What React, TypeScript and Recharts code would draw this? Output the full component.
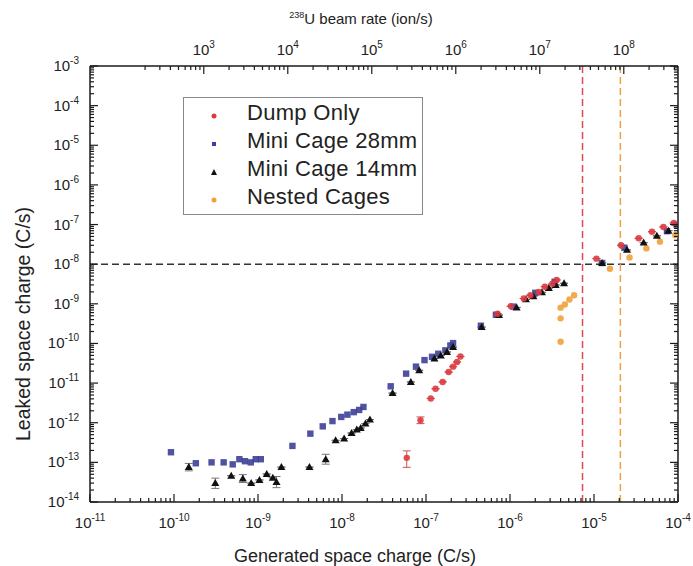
import React from 'react';
import { ScatterChart, Scatter, XAxis, YAxis, ReferenceLine, Legend, ErrorBar, Label } from 'recharts';

const FONT = '"Liberation Sans", Arial, Helvetica, sans-serif';

// ---------- axis definitions ----------
const X_DECADES = [-11, -10, -9, -8, -7, -6, -5, -4];
const Y_DECADES = [-14, -13, -12, -11, -10, -9, -8, -7, -6, -5, -4, -3];
const TOP_MAJOR_DECADES = [3, 4, 5, 6, 7, 8];
const TOP_MINOR_DECADES = [2, 3, 4, 5, 6, 7, 8];
const MINOR_MULTIPLIERS = [2, 3, 4, 5, 6, 7, 8, 9];
const ION_PER_CS = 4.42e12; // 238U ions/s per C/s generated

const X_DOMAIN = [1e-11, 1e-4];
const Y_DOMAIN = [1e-14, 1e-3];
const TOP_DOMAIN = [X_DOMAIN[0] * ION_PER_CS, X_DOMAIN[1] * ION_PER_CS];

const LEAK_LIMIT = 1e-8;
const RED_LIMIT = 7.3e-6;
const ORANGE_LIMIT = 2.06e-5;

// ---------- series data ----------
const dumpX = [5.9e-8, 8.6e-8, 1.14e-7, 1.3e-7, 1.58e-7, 1.86e-7, 2.1e-7, 2.34e-7, 2.57e-7,
  7.1e-7, 1.02e-6, 1.46e-6, 1.75e-6, 2.2e-6, 2.6e-6, 3.2e-6, 3.6e-6,
  1.07e-5, 2.1e-5, 3.4e-5, 4.9e-5, 6.7e-5, 8.9e-5];
const dumpY = [1.3e-13, 1.15e-12, 4.1e-12, 7.2e-12, 1.07e-11, 1.9e-11, 2.6e-11, 3.4e-11, 4.7e-11,
  5.6e-10, 8.7e-10, 1.36e-9, 1.65e-9, 2.0e-9, 2.7e-9, 3.2e-9, 4.0e-9,
  1.38e-8, 3.0e-8, 4.5e-8, 6.6e-8, 8.7e-8, 1.1e-7];
const dumpErrLo = [5.5e-14, 2e-13, 0, 0, 0, 0, 0, 0, 0, 0, 0, 0, 0, 0, 0, 0, 0, 0, 0, 0, 0, 0, 0];
const dumpErrHi = [6.5e-14, 2.5e-13, 0, 0, 0, 0, 0, 0, 0, 0, 0, 0, 0, 0, 0, 0, 0, 0, 0, 0, 0, 0, 0];

const cage28X = [9.2e-11, 1.82e-10, 2.8e-10, 3.9e-10, 5.0e-10, 6.0e-10, 7.0e-10, 8.2e-10, 9.4e-10, 1.08e-9,
  2.57e-9, 4.2e-9, 5.9e-9, 7.7e-9, 9.8e-9, 1.16e-8, 1.38e-8, 1.6e-8, 1.8e-8,
  3.8e-8, 5.8e-8, 7.6e-8, 9.6e-8, 1.18e-7, 1.4e-7, 1.7e-7, 1.95e-7, 2.1e-7,
  4.5e-7, 6.8e-7, 1.1e-6, 2.0e-6, 3.4e-6, 1.25e-5, 2.3e-5, 7.4e-5, 9.6e-5];
const cage28Y = [1.8e-13, 9.5e-14, 1.0e-13, 1.0e-13, 8.9e-14, 1.2e-13, 1.07e-13, 1.0e-13, 1.2e-13, 1.2e-13,
  2.6e-13, 5.3e-13, 8.1e-13, 1.1e-12, 1.4e-12, 1.6e-12, 1.85e-12, 2.1e-12, 2.5e-12,
  8.3e-12, 1.73e-11, 2.6e-11, 3.8e-11, 4.6e-11, 5.5e-11, 6.7e-11, 8.9e-11, 1.02e-10,
  2.8e-10, 5.3e-10, 8.5e-10, 1.9e-9, 3.6e-9, 1.07e-8, 2.6e-8, 6.8e-8, 1.0e-7];

const cage14X = [1.5e-10, 3.1e-10, 4.8e-10, 6.6e-10, 8.3e-10, 1.04e-9, 1.27e-9, 1.5e-9, 1.66e-9, 1.9e-9,
  4.1e-9, 6.4e-9, 8.4e-9, 1.06e-8, 1.3e-8, 1.5e-8, 1.67e-8, 1.9e-8, 2.15e-8,
  4.0e-8, 6.6e-8, 8.3e-8, 1.26e-7, 1.5e-7, 1.78e-7, 2.1e-7,
  4.6e-7, 7.4e-7, 1.2e-6, 1.55e-6, 1.9e-6, 2.4e-6, 2.9e-6, 3.5e-6, 4.4e-6,
  1.25e-5, 2.47e-5, 3.9e-5, 5.6e-5, 7.7e-5];
const cage14Y = [7.6e-14, 3.0e-14, 4.6e-14, 3.9e-14, 3.0e-14, 3.6e-14, 5.1e-14, 4.1e-14, 3.2e-14, 7.6e-14,
  7.6e-14, 1.2e-13, 3.6e-13, 4.0e-13, 5.5e-13, 6.7e-13, 7.4e-13, 9.5e-13, 1.2e-12,
  5.6e-12, 1.07e-11, 2.1e-11, 4.2e-11, 5.0e-11, 6.1e-11, 8.1e-11,
  2.6e-10, 5.2e-10, 8.1e-10, 1.3e-9, 1.55e-9, 1.95e-9, 2.5e-9, 3.0e-9, 3.3e-9,
  1.07e-8, 2.3e-8, 3.5e-8, 5.2e-8, 7.0e-8];
const cage14ErrLo = [1.5e-14, 0.8e-14, 0, 0.8e-14, 0, 0, 0, 0, 0.9e-14, 0,
  0, 3e-14, 0, 0, 0, 0, 0, 0, 0, 0, 0, 0, 0, 0, 0, 0, 0, 0, 0, 0, 0, 0, 0, 0, 0, 0, 0, 0, 0, 0];
const cage14ErrHi = [1.8e-14, 1.0e-14, 0, 1.0e-14, 0, 0, 0, 0, 1.2e-14, 0,
  0, 4e-14, 0, 0, 0, 0, 0, 0, 0, 0, 0, 0, 0, 0, 0, 0, 0, 0, 0, 0, 0, 0, 0, 0, 0, 0, 0, 0, 0, 0];

const nestedX = [4.0e-6, 4.0e-6, 4.0e-6, 4.5e-6, 5.1e-6, 5.8e-6, 1.55e-5, 2.65e-5, 4.2e-5, 6.1e-5, 9.3e-5];
const nestedY = [1.1e-10, 4.3e-10, 8.0e-10, 9.6e-10, 1.28e-9, 1.65e-9, 7.7e-9, 1.48e-8, 2.5e-8, 3.7e-8, 5.4e-8];

const SERIES_NAMES = ['Dump Only', 'Mini Cage 28mm', 'Mini Cage 14mm', 'Nested Cages'];
const COLORS = ['#dc3b40', '#3d3f98', '#111111', '#f0a23a'];

// ---------- build helpers ----------
const zip = (xs: number[], ys: number[], lo?: number[], hi?: number[]) =>
  xs.map((x, i) => ({ x, y: ys[i], err: [lo ? lo[i] : 0, hi ? hi[i] : 0] }));

const dumpData = zip(dumpX, dumpY, dumpErrLo, dumpErrHi);
const cage28Data = zip(cage28X, cage28Y);
const cage14Data = zip(cage14X, cage14Y, cage14ErrLo, cage14ErrHi);
const nestedData = zip(nestedX, nestedY);
// invisible anchors so the secondary (top / right) axes get their domain
const secondaryAnchors = [
  { x: TOP_DOMAIN[0], y: Y_DOMAIN[0] },
  { x: TOP_DOMAIN[1], y: Y_DOMAIN[1] },
];

const logTicks = (majors: number[], minorDecades: number[], domain: number[]) => {
  const t: number[] = majors.map((d) => Math.pow(10, d));
  minorDecades.forEach((d) => MINOR_MULTIPLIERS.forEach((m) => t.push(m * Math.pow(10, d))));
  return t.filter((v) => v >= domain[0] * 0.999 && v <= domain[1] * 1.001).sort((a, b) => a - b);
};
const X_TICKS = logTicks(X_DECADES, X_DECADES.slice(0, -1), X_DOMAIN);
const Y_TICKS = logTicks(Y_DECADES, Y_DECADES.slice(0, -1), Y_DOMAIN);
const TOP_TICKS = logTicks(TOP_MAJOR_DECADES, TOP_MINOR_DECADES, TOP_DOMAIN);

const isMajor = (v: number) => Math.abs(Math.log10(v) - Math.round(Math.log10(v))) < 1e-6;
const expOf = (v: number) => String(Math.round(Math.log10(v)));

const AX = '#1a1a1a';
const MAJ = 8;
const MIN = 4;
const LBL = 15;
const SUP = 10;

const Pow = ({ x, y, v, anchor }: any) => (
  <text x={x} y={y} textAnchor={anchor} fontSize={LBL} fontFamily={FONT} fill="#222">
    10<tspan dy={-7} fontSize={SUP}>{expOf(v)}</tspan>
  </text>
);

const BottomTick = ({ x, y, payload }: any) => {
  const v = payload.value;
  const m = isMajor(v);
  return (
    <g>
      <line x1={x} x2={x} y1={y} y2={y - (m ? MAJ : MIN)} stroke={AX} strokeWidth={1.2} />
      {m && <Pow x={x} y={y + 26} v={v} anchor="middle" />}
    </g>
  );
};
const TopTick = ({ x, y, payload }: any) => {
  const v = payload.value;
  const m = isMajor(v);
  return (
    <g>
      <line x1={x} x2={x} y1={y} y2={y + (m ? MAJ : MIN)} stroke={AX} strokeWidth={1.2} />
      {m && <Pow x={x} y={y - 11} v={v} anchor="middle" />}
    </g>
  );
};
const LeftTick = ({ x, y, payload }: any) => {
  const v = payload.value;
  const m = isMajor(v);
  return (
    <g>
      <line x1={x} x2={x + (m ? MAJ : MIN)} y1={y} y2={y} stroke={AX} strokeWidth={1.2} />
      {m && <Pow x={x - 11} y={y + 5} v={v} anchor="end" />}
    </g>
  );
};
const RightTick = ({ x, y, payload }: any) => {
  const v = payload.value;
  const m = isMajor(v);
  return <line x1={x} x2={x - (m ? MAJ : MIN)} y1={y} y2={y} stroke={AX} strokeWidth={1.2} />;
};

const BottomTitle = ({ viewBox }: any) => (
  <text x={viewBox.x + viewBox.width / 2 - 29} y={viewBox.y + 60} textAnchor="middle"
    fontSize={18} fontFamily={FONT} fill="#222">Generated space charge (C/s)</text>
);
const TopTitle = ({ viewBox }: any) => (
  <text x={viewBox.x + viewBox.width / 2 - 23} y={viewBox.y + 24} textAnchor="middle"
    fontSize={15} fontFamily={FONT} fill="#222">
    <tspan fontSize={9} dy={-6}>238</tspan><tspan dy={6}>U beam rate (ion/s)</tspan>
  </text>
);
const LeftTitle = ({ viewBox }: any) => {
  const cx = viewBox.x + 23;
  const cy = viewBox.y + viewBox.height / 2 + 40;
  return (
    <text x={cx} y={cy} transform={`rotate(-90 ${cx} ${cy})`} textAnchor="middle"
      dominantBaseline="central" fontSize={19.5} fontFamily={FONT} fill="#222">Leaked space charge (C/s)</text>
  );
};

// ---------- markers ----------
const Dot = (color: string) => (p: any) => <circle cx={p.cx} cy={p.cy} r={3.2} fill={color} opacity={0.9} />;
const Sq = (color: string) => (p: any) => <rect x={p.cx - 3.2} y={p.cy - 3.2} width={6.4} height={6.4} fill={color} opacity={0.9} />;
const Tri = (color: string) => (p: any) => (
  <path d={`M${p.cx},${p.cy - 4} L${p.cx + 4},${p.cy + 3} L${p.cx - 4},${p.cy + 3} Z`} fill={color} />
);
const Nothing = () => <g />;

const LegendMarker = ({ i }: { i: number }) => {
  const c = COLORS[i];
  if (i === 1) return <svg width={8} height={8}><rect x={2} y={2} width={4} height={4} fill={c} /></svg>;
  if (i === 2) return <svg width={8} height={8}><path d="M4,1 L7,7 L1,7 Z" fill={c} /></svg>;
  return <svg width={8} height={8}><circle cx={4} cy={4} r={2.5} fill={c} /></svg>;
};

const LegendBox = () => (
  <div style={{ width: 240, height: 118, border: '1px solid #888', background: '#fff', fontFamily: FONT, boxSizing: 'border-box', paddingTop: 1 }}>
    {SERIES_NAMES.map((n, i) => (
      <div key={n} style={{ display: 'flex', alignItems: 'center', height: 28, fontSize: 22, letterSpacing: 0.3, color: '#222', lineHeight: '28px', whiteSpace: 'nowrap' }}>
        <div style={{ width: 63, display: 'flex', justifyContent: 'center' }}>
          <div style={{ marginLeft: -4 }}><LegendMarker i={i} /></div>
        </div>
        <span>{n}</span>
      </div>
    ))}
  </div>
);

export default function App() {
  return (
    <div style={{ position: 'absolute', left: 0, top: 0, width: 693, height: 566, background: '#fff' }}>
      <ScatterChart width={693} height={566} margin={{ top: 0, right: 0, bottom: 0, left: 0 }}>
        <XAxis xAxisId="b" dataKey="x" type="number" scale="log" domain={X_DOMAIN} allowDataOverflow
          ticks={X_TICKS} interval={0} tickSize={0} tickMargin={0} tickLine={false} tick={<BottomTick />}
          height={64} axisLine={{ stroke: AX, strokeWidth: 1.5 }}>
          <Label content={<BottomTitle />} />
        </XAxis>
        <XAxis xAxisId="t" dataKey="x" orientation="top" type="number" scale="log" domain={TOP_DOMAIN} allowDataOverflow
          ticks={TOP_TICKS} interval={0} tickSize={0} tickMargin={0} tickLine={false} tick={<TopTick />}
          height={66} axisLine={{ stroke: AX, strokeWidth: 1.5 }}>
          <Label content={<TopTitle />} />
        </XAxis>
        <YAxis yAxisId="l" dataKey="y" type="number" scale="log" domain={Y_DOMAIN} allowDataOverflow
          ticks={Y_TICKS} interval={0} tickSize={0} tickMargin={0} tickLine={false} tick={<LeftTick />}
          width={90} axisLine={{ stroke: AX, strokeWidth: 1.5 }}>
          <Label content={<LeftTitle />} />
        </YAxis>
        <YAxis yAxisId="r" dataKey="y" orientation="right" type="number" scale="log" domain={Y_DOMAIN} allowDataOverflow
          ticks={Y_TICKS} interval={0} tickSize={0} tickMargin={0} tickLine={false} tick={<RightTick />}
          width={15} axisLine={{ stroke: AX, strokeWidth: 1.5 }} />
        <ReferenceLine xAxisId="b" yAxisId="l" y={LEAK_LIMIT} stroke="#333" strokeWidth={1.5} strokeDasharray="7 4" />
        <ReferenceLine xAxisId="b" yAxisId="l" x={RED_LIMIT} stroke="#e2494f" strokeWidth={1.5} strokeDasharray="7 4" />
        <ReferenceLine xAxisId="b" yAxisId="l" x={ORANGE_LIMIT} stroke="#eea14a" strokeWidth={1.5} strokeDasharray="7 4" />
        <Legend layout="vertical" align="center" verticalAlign="middle" content={<LegendBox />}
          wrapperStyle={{ left: 183, top: 97, width: 240, height: 118 }} />
        <Scatter xAxisId="t" yAxisId="r" data={secondaryAnchors} shape={Nothing} legendType="none" isAnimationActive={false} />
        <Scatter xAxisId="b" yAxisId="l" name={SERIES_NAMES[1]} data={cage28Data} shape={Sq(COLORS[1])} isAnimationActive={false} />
        <Scatter xAxisId="b" yAxisId="l" name={SERIES_NAMES[3]} data={nestedData} shape={Dot(COLORS[3])} isAnimationActive={false} />
        <Scatter xAxisId="b" yAxisId="l" name={SERIES_NAMES[2]} data={cage14Data} shape={Tri(COLORS[2])} isAnimationActive={false}>
          <ErrorBar dataKey="err" direction="y" width={4} stroke="#777" strokeWidth={1} />
        </Scatter>
        <Scatter xAxisId="b" yAxisId="l" name={SERIES_NAMES[0]} data={dumpData} shape={Dot(COLORS[0])} isAnimationActive={false}>
          <ErrorBar dataKey="err" direction="y" width={4} stroke="#c55" strokeWidth={1} />
        </Scatter>
      </ScatterChart>
    </div>
  );
}
